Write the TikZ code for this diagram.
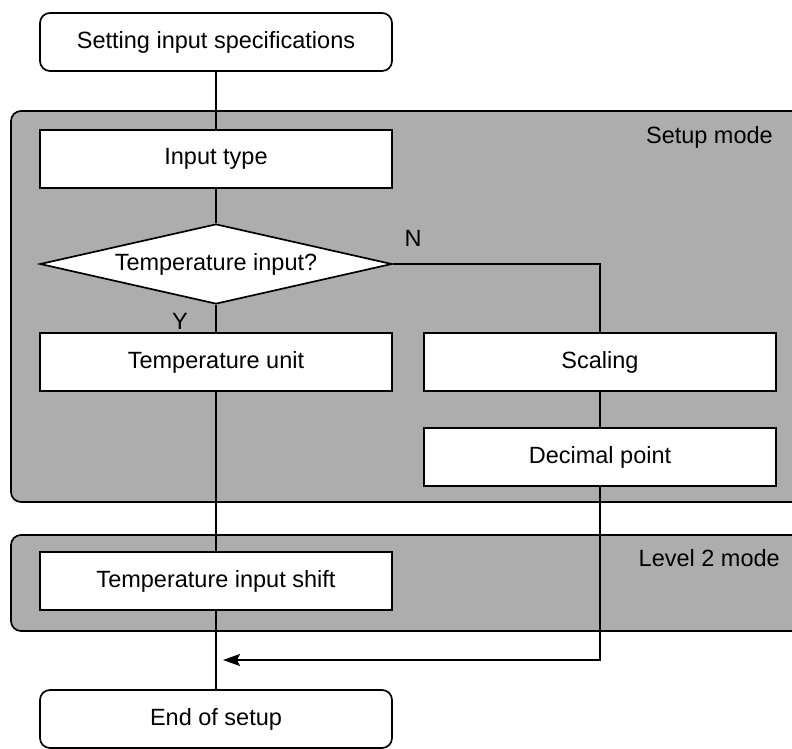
\documentclass[tikz,border=0pt]{standalone}
\usepackage{fontspec}
\setmainfont{Liberation Sans}
\usetikzlibrary{shapes.geometric,arrows.meta}
\begin{document}
\begin{tikzpicture}[x=1pt,y=-1pt,
  every node/.style={font=\fontsize{23.5}{26}\selectfont},
  line/.style={line width=1.7pt},
  stepbox/.style={draw,line width=1.7pt,fill=white,minimum width=352pt,minimum height=58pt,inner sep=0pt},
  termbox/.style={stepbox,rounded corners=10pt},
  decide/.style={draw,line width=1.7pt,fill=white,shape=diamond,aspect=4.4,minimum width=352pt,minimum height=80pt,inner sep=0pt},
  region/.style={draw,line width=1.7pt,fill=black!32,rounded corners=10pt},
  lbl/.style={inner sep=0pt}]
\clip (0,0) rectangle (792,748);
\fill[white] (0,0) rectangle (792,748);
% shaded mode regions
\draw[region] (11,111) rectangle (830,502);
\draw[region] (11,535) rectangle (830,631);
\node[lbl,anchor=east] (setuplbl) at (773,137) {Setup mode};
\node[lbl,anchor=east] (lvllbl) at (780,558) {Level 2 mode};
% nodes
\node[termbox] (start) at (216,42) {Setting input specifications};
\node[stepbox] (input) at (216,159) {Input type};
\node[decide] (temp) at (216,264) {Temperature input?};
\node[stepbox] (unit) at (216,362) {Temperature unit};
\node[stepbox] (scale) at (600,362) {Scaling};
\node[stepbox] (dec) at (600,457) {Decimal point};
\node[stepbox] (shift) at (216,581) {Temperature input shift};
\node[termbox] (end) at (216,719) {End of setup};
\coordinate (join) at (223,660);
% connectors
\draw[line] (start) -- (input);
\draw[line] (input) -- (temp);
\draw[line] (temp.south) -- (unit.north);
\draw[line] (temp.east) -| (scale.north);
\draw[line] (scale) -- (dec);
\draw[line] (unit) -- (shift);
\draw[line] (shift) -- (end);
\draw[line,-{Stealth[length=17pt,width=12pt,inset=3pt]}] (dec.south) |- (join);
\node[lbl] (ylbl) at (180,321) {Y};
\node[lbl] (nlbl) at (413,238) {N};
\end{tikzpicture}
\end{document}
